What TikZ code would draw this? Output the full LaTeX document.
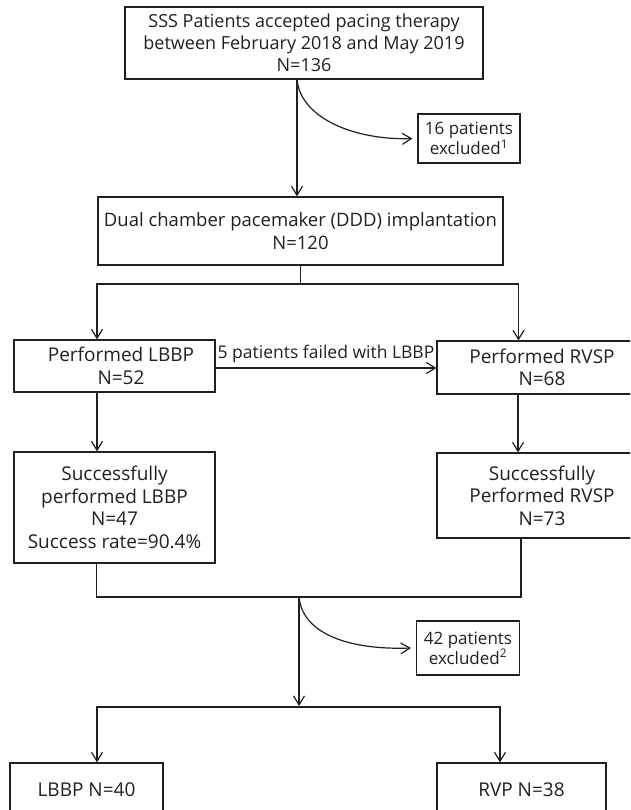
\documentclass[tikz,border=0pt]{standalone}
\usepackage{fontspec}
\setmainfont{Open Sans}
\usetikzlibrary{arrows.meta,calc}
\definecolor{ink}{HTML}{231F20}
\tikzset{
  box/.style={draw=ink, line width=1.2pt, inner sep=0pt, align=center,
    text=ink, font=\fontsize{19}{22.5}\selectfont},
  exbox/.style={box, font=\fontsize{17}{20}\selectfont},
  arr/.style={draw=ink, line width=1.2pt, -{Straight Barb[length=9pt,width=11pt,line width=1.2pt]}},
  ln/.style={draw=ink, line width=1.2pt},
}
\begin{document}
\begin{tikzpicture}[x=1pt,y=-1pt]
\useasboundingbox (0,0) rectangle (630,810);
\clip (0,0) rectangle (630,810);
\node[box, minimum width=358pt, minimum height=72pt, font=\fontsize{18}{22}\selectfont] (n1) at (304,43)
  {SSS Patients accepted pacing therapy\\between February 2018 and May 2019\\N=136};
\node[exbox, minimum width=102pt, minimum height=49pt] (ex1) at (469,138.5)
  {16 patients\\excluded\textsuperscript{1}};
\node[box, minimum width=405pt, minimum height=68pt, font=\fontsize{18.5}{23}\selectfont] (n2) at (300.5,231)
  {Dual chamber pacemaker (DDD) implantation\\N=120};
\node[box, minimum width=201pt, minimum height=52pt] (lb1) at (114.5,366)
  {\hspace*{13pt}Performed LBBP\\\hspace*{13pt}N=52};
\node[box, minimum width=210pt, minimum height=53pt] (rv1) at (542,367.5)
  {Performed RVSP\\N=68};
\node[box, minimum width=201pt, minimum height=111pt] (lb2) at (114.5,507.5)
  {Successfully\\performed LBBP\\N=47\\Success rate=90.4\%};
\node[box, minimum width=210pt, minimum height=85pt] (rv2) at (542,495.5)
  {Successfully\\Performed RVSP\\N=73};
\node[exbox, minimum width=103pt, minimum height=54pt] (ex2) at (468,648)
  {42 patients\\excluded\textsuperscript{2}};
\node[box, minimum width=153pt, minimum height=54pt] (lb3) at (86.5,790)
  {LBBP N=40};
\node[box, minimum width=169pt, minimum height=54pt] (rv3) at (521.5,790)
  {RVP N=38};

% top to DDD
\coordinate (a1) at ($(n1.south)+(-7,0)$);
\draw[arr] (a1) -- (a1 |- n2.north);
\draw[arr] (a1) .. controls ($(a1)+(4,40)$) and ($(ex1.west)+(-60,2)$) .. ($(ex1.west)+(-5,0)$);

% DDD split
\coordinate (b1) at (300.5,284);
\draw[ln] (n2.south -| b1) -- (b1);
\draw[arr] (b1) -| ($(lb1.north)+(-17.5,0)$);
\draw[arr] (b1) -| ($(rv1.north)+(-23.5,0)$);

% LBBP failed
\coordinate (f1) at ($(lb1.east)+(0,2)$);
\draw[arr] (f1) -- node[above=1pt, text=ink, font=\fontsize{17.5}{18}\selectfont]{5 patients failed with LBBP} (f1 -| rv1.west);

% down arrows
\draw[arr] ($(lb1.south)+(-17.5,0)$) -- ($(lb2.north)+(-17.5,0)$);
\draw[arr] ($(rv1.south)+(-24,0)$) -- ($(rv2.north)+(-24,0)$);

% merge
\coordinate (b2) at (299,597);
\coordinate (l2) at ($(lb2.south)+(-18,0)$);
\coordinate (r2) at ($(rv2.south)+(-21,0)$);
\draw[ln] (l2) -- (l2 |- b2) -- (r2 |- b2) -- (r2);
\draw[arr] (b2) .. controls ($(b2)+(4,40)$) and ($(ex2.west)+(-60,2)$) .. ($(ex2.west)+(-5,0)$);

% final split
\coordinate (b3) at (299,707);
\draw[arr] (b2) -- ($(b3)+(0,-1)$);
\draw[ln] ($(lb3.north)+(10.5,-3)$) |- (b3) -| ($(rv3.north)+(-21.5,-3)$);
\draw[arr] (b3 -| {$(lb3.north)+(10.5,0)$}) -- ($(lb3.north)+(10.5,0)$);
\draw[arr] (b3 -| {$(rv3.north)+(-21.5,0)$}) -- ($(rv3.north)+(-21.5,0)$);
\end{tikzpicture}
\end{document}
